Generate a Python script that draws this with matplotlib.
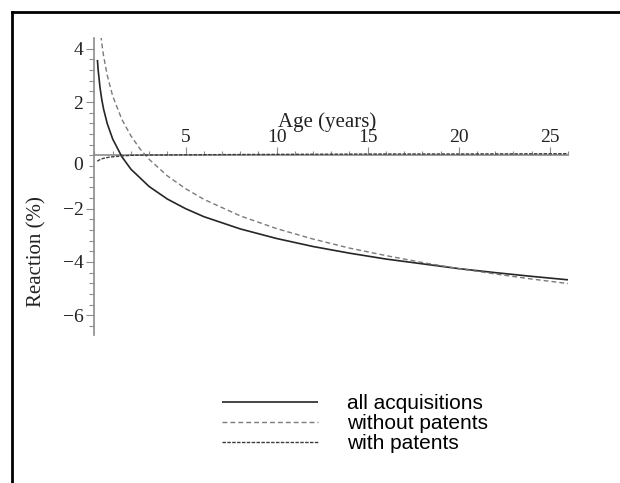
import matplotlib
matplotlib.use("Agg")
import matplotlib.pyplot as plt
from matplotlib.lines import Line2D
from matplotlib.ticker import MultipleLocator

# ---- data ----
x_all = [0.16, 0.2, 0.3, 0.4, 0.5, 0.7, 1.0, 1.5, 2, 3, 4, 5, 6, 8, 10, 12, 14, 16, 18, 20, 22, 24, 26]
y_all = [3.58, 3.21, 2.56, 2.09, 1.73, 1.19, 0.61, -0.05, -0.52, -1.17, -1.64, -2.00, -2.30, -2.76,
         -3.12, -3.42, -3.67, -3.89, -4.07, -4.25, -4.40, -4.54, -4.67]

x_wo = [0.35, 0.4, 0.5, 0.7, 1.0, 1.5, 2, 2.5, 3, 4, 5, 6, 8, 10, 12, 14, 16, 18, 20, 22, 24, 26]
y_wo = [4.49, 4.20, 3.72, 3.00, 2.22, 1.35, 0.73, 0.24, -0.15, -0.77, -1.25, -1.65, -2.27, -2.75,
        -3.14, -3.48, -3.76, -4.02, -4.25, -4.45, -4.64, -4.81]

x_w = [0.15, 0.3, 0.5, 0.8, 1.2, 1.6, 2, 3, 5, 8, 12, 16, 20, 26]
y_w = [-0.22, -0.16, -0.11, -0.07, -0.04, -0.02, 0.0, 0.01, 0.02, 0.03, 0.04, 0.05, 0.05, 0.06]

labels = ["all acquisitions", "without patents", "with patents"]
yticks = [-6, -4, -2, 2, 4]
xticks = [5, 10, 15, 20, 25]

W, H = 620, 483
fig = plt.figure(figsize=(W / 100, H / 100), dpi=100)
ax = fig.add_axes([94.5 / W, 1 - 335 / H, (568 - 94.5) / W, (335 - 38.3) / H])

serif = ["Liberation Serif", "DejaVu Serif"]
axcol = "#8c8c8c"

l1, = ax.plot(x_all, y_all, color="#262626", lw=1.2, solid_capstyle="butt")
l2, = ax.plot(x_wo, y_wo, color="#7a7a7a", lw=1.0, linestyle=(0, (3.5, 2.2)))
l3, = ax.plot(x_w, y_w, color="#3c3c3c", lw=1.0, linestyle=(0, (2.5, 1.0)))

ax.set_xlim(0, 26)
ax.set_ylim(-6.74, 4.39)

for s in ["bottom", "right"]:
    ax.spines[s].set_visible(False)
ax.spines["top"].set_position(("data", 0))
ax.spines["left"].set_position(("data", 0))
for s in ["top", "left"]:
    ax.spines[s].set_color(axcol)
    ax.spines[s].set_linewidth(1.2)
    ax.spines[s].set_zorder(0)

ax.xaxis.set_ticks_position("top")
ax.xaxis.set_label_position("top")
ax.set_xticks(xticks)
ax.xaxis.set_minor_locator(MultipleLocator(1))
ax.set_yticks(yticks)
ax.yaxis.set_minor_locator(MultipleLocator(0.4))
ax.tick_params(which="both", colors=axcol, width=0.8)
ax.tick_params(axis="x", which="major", length=6, pad=1, labelcolor="#222222")
ax.tick_params(axis="x", which="minor", length=3)
ax.tick_params(axis="y", which="major", length=6, pad=2, labelcolor="#222222")
ax.tick_params(axis="y", which="minor", length=3.5)
for lab in ax.get_xticklabels() + ax.get_yticklabels():
    lab.set_fontfamily(serif)
    lab.set_fontsize(14)

ax.annotate("0", xy=(0, 0), xycoords="data", xytext=(-8, -7.5), textcoords="offset points",
            ha="right", va="center", fontsize=14, family=serif, color="#222222")

fig.text(327 / W, 1 - 122 / H, "Age (years)", ha="center", va="center", fontsize=15,
         family=serif, color="#222222")
fig.text(37 / W, 1 - 252 / H, "Reaction (%)", ha="center", va="center", rotation=90,
         fontsize=15, family=serif, color="#222222")

fig.legend([l1, l2, l3], labels, loc="upper left", bbox_to_anchor=(222 / W, 1 - 394 / H),
           frameon=False, prop={"family": ["Liberation Sans", "DejaVu Sans"], "size": 15},
           handlelength=4.6, handletextpad=1.4, labelspacing=0.05, borderpad=0,
           borderaxespad=0)

# outer frame (left and top edges)
fig.add_artist(Line2D([11.5 / W, 11.5 / W], [0, 1 - 11.5 / H], color="black", lw=2,
                      transform=fig.transFigure, solid_capstyle="projecting"))
fig.add_artist(Line2D([11.5 / W, 1], [1 - 11.5 / H, 1 - 11.5 / H], color="black", lw=2,
                      transform=fig.transFigure, solid_capstyle="projecting"))

fig.savefig("out.png", dpi=100)
